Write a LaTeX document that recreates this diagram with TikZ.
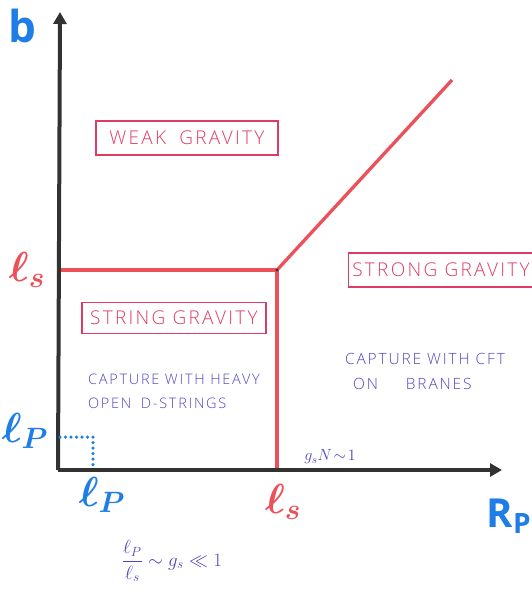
\RequirePackage{fix-cm}
\documentclass[tikz,border=0pt]{standalone}
\usepackage{amsmath}
\usepackage{fontspec}
\setmainfont{Open Sans}
\newfontfamily\handfont[LetterSpace=12]{Open Sans Light}
\usetikzlibrary{arrows.meta}
\definecolor{penred}{RGB}{236,80,88}
\definecolor{boxred}{RGB}{222,60,100}
\definecolor{penblue}{RGB}{30,125,230}
\definecolor{penpurple}{RGB}{80,70,190}
\definecolor{axisgray}{RGB}{50,50,50}
\tikzset{
  axis/.style={draw=axisgray,line width=4pt,-{Triangle[length=12pt,width=13pt]}},
  regline/.style={draw=penred,line width=3.3pt},
  regbox/.style={draw=boxred,line width=1.1pt,text=boxred,inner xsep=4pt,inner ysep=4pt,font=\handfont\fontsize{19}{22}\selectfont},
  hand/.style={text=penpurple,font=\handfont\fontsize{14.5}{24}\selectfont,align=left},
  bluelab/.style={text=penblue,font=\bfseries\fontsize{44}{46}\selectfont},
  redlab/.style={text=penred,font=\bfseries\fontsize{42}{46}\selectfont},
  bluemath/.style={text=penblue,font=\bfseries\fontsize{42}{46}\selectfont},
  dots/.style={draw=penblue,line width=3.5pt,dash pattern=on 0pt off 5.5pt,line cap=round}
}
\begin{document}
\begin{tikzpicture}[x=1pt,y=-1pt]
\useasboundingbox (0,0) rectangle (531,593);
\coordinate (O) at (58,470);
\coordinate (ytip) at (60,12);
\coordinate (xtip) at (502,470);
\coordinate (C) at (277,270);
\coordinate (Cl) at (58,270);
\coordinate (Cb) at (277,470);
\coordinate (D) at (452,80);
\coordinate (P1) at (60,437);
\coordinate (P2) at (93,437);
\coordinate (P3) at (93,468);
% regions
\draw[regline] (Cl) -- (C) -- (Cb);
\draw[regline] (C) -- (D);
\fill[axisgray] (C) circle (1.6pt);
% axes
\draw[axis] (O) -- (ytip);
\draw[axis] (O) -- (xtip);
% dotted lp
\draw[dots] (P1) -- (P2) -- (P3);
% boxes
\node[regbox,minimum width=182pt,minimum height=34pt] (weak) at (187,138) {WEAK\hspace{6pt} GRAVITY};
\node[regbox,minimum width=184pt,minimum height=31pt] (strg) at (174,318) {STRING GRAVITY};
\node[regbox,minimum width=174pt,minimum height=34pt] (strong) at (441,270) {STRONG GRAVITY};
% texts
\node[hand] (heavy) at (174,391) {CAPTURE WITH HEAVY\\OPEN\hspace{4pt} D-STRINGS};
\node[hand,font=\handfont\fontsize{15.5}{25}\selectfont] (cft) at (425,371) {CAPTURE WITH CFT\\\hspace*{8pt}ON \hspace{22pt}BRANES};
\node[text=penpurple,font=\fontsize{16}{18}\selectfont] (gsn) at (330,457) {$g_s N\!\sim\! 1$};
\node[text=penpurple,font=\fontsize{19}{22}\selectfont] (frac) at (172,561) {$\dfrac{\ell_P}{\ell_s}\sim g_s \ll 1$};
% axis labels
\node[bluelab] (b) at (22,26) {b};
\node[bluelab,font=\bfseries\fontsize{40}{44}\selectfont] (Rp) at (509,516) {R\textsubscript{P}};
\node[redlab] (lsy) at (27,270) {$\boldsymbol{\ell_s}$};
\node[redlab] (lsx) at (283,502) {$\boldsymbol{\ell_s}$};
\node[bluemath] (lpy) at (25,431) {$\boldsymbol{\ell_P}$};
\node[bluemath] (lpx) at (102,495) {$\boldsymbol{\ell_P}$};
\end{tikzpicture}
\end{document}
